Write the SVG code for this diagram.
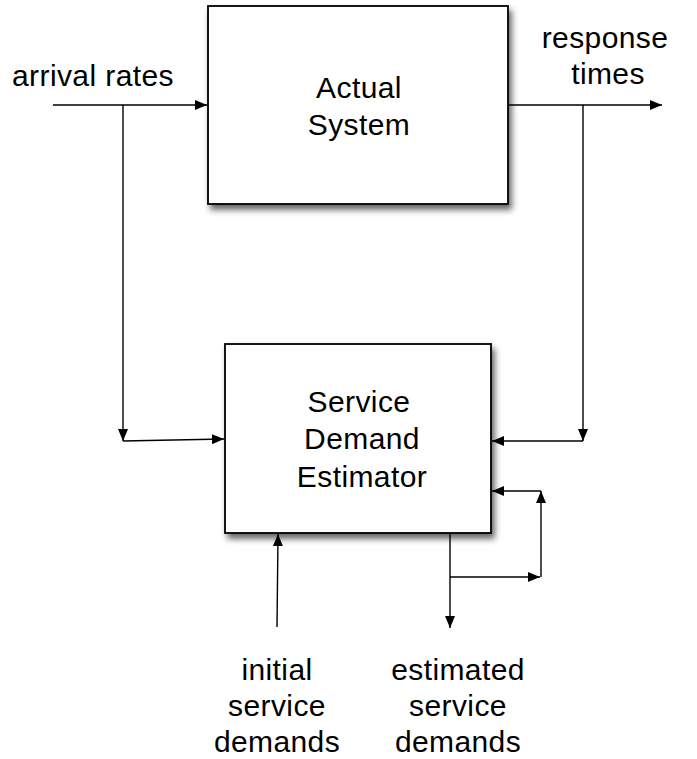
<svg xmlns="http://www.w3.org/2000/svg" width="697" height="759" viewBox="0 0 697 759">
  <defs>
    <filter id="shadow" x="-10%" y="-10%" width="125%" height="130%">
      <feDropShadow dx="3" dy="5" stdDeviation="3.2" flood-color="#000" flood-opacity="0.6"/>
    </filter>
    <marker id="arrow" viewBox="0 0 12 10" refX="12" refY="5" markerWidth="12" markerHeight="10" markerUnits="userSpaceOnUse" orient="auto">
      <path d="M0,0 L12,5 L0,10 Z" fill="#000"/>
    </marker>
  </defs>
  <style>
    .box { fill: #fff; stroke: #000; stroke-width: 1.8; }
    .lbl { font-family: "Liberation Sans", Arial, Helvetica, sans-serif; font-size: 30px; letter-spacing: 0.4px; fill: #000; text-anchor: middle; }
    .wire { fill: none; stroke: #000; stroke-width: 1.4; }
    .arr { marker-end: url(#arrow); }
  </style>

  <rect width="697" height="759" fill="#fff"/>

  <g id="actual-system">
    <rect class="box" x="208" y="6" width="300" height="198" filter="url(#shadow)"/>
    <text class="lbl" x="359" y="98">Actual</text>
    <text class="lbl" x="359" y="135">System</text>
  </g>

  <g id="estimator">
    <rect class="box" x="225" y="344" width="266" height="189" filter="url(#shadow)"/>
    <text class="lbl" x="359" y="412">Service</text>
    <text class="lbl" x="362" y="449">Demand</text>
    <text class="lbl" x="362" y="487">Estimator</text>
  </g>

  <g id="labels">
    <text class="lbl" x="93" y="86">arrival rates</text>
    <text class="lbl" x="605" y="48">response</text>
    <text class="lbl" x="608" y="84">times</text>
    <text class="lbl" x="277" y="680">initial</text>
    <text class="lbl" x="277" y="716">service</text>
    <text class="lbl" x="277" y="752">demands</text>
    <text class="lbl" x="458" y="680">estimated</text>
    <text class="lbl" x="458" y="716">service</text>
    <text class="lbl" x="458" y="752">demands</text>
  </g>

  <g id="connectors">
    <!-- arrival rates into the actual system -->
    <path class="wire arr" d="M53,105 L207,105"/>
    <!-- arrival rates branch down to the estimator -->
    <path class="wire arr" d="M123,105 L123,441"/>
    <path class="wire arr" d="M123,441 L224,439"/>
    <!-- response times out of the actual system -->
    <path class="wire arr" d="M509,105 L662,105"/>
    <!-- response times branch down to the estimator -->
    <path class="wire arr" d="M583,105 L583,441"/>
    <path class="wire arr" d="M583,441 L492,441"/>
    <!-- estimated demands output -->
    <path class="wire arr" d="M450,534 L450,628"/>
    <!-- feedback loop -->
    <path class="wire arr" d="M450,577 L540,577"/>
    <path class="wire arr" d="M541,577 L541,491"/>
    <path class="wire arr" d="M541,491 L492,491"/>
    <!-- initial demands input -->
    <path class="wire arr" d="M277,627 L278,534"/>
  </g>
</svg>
